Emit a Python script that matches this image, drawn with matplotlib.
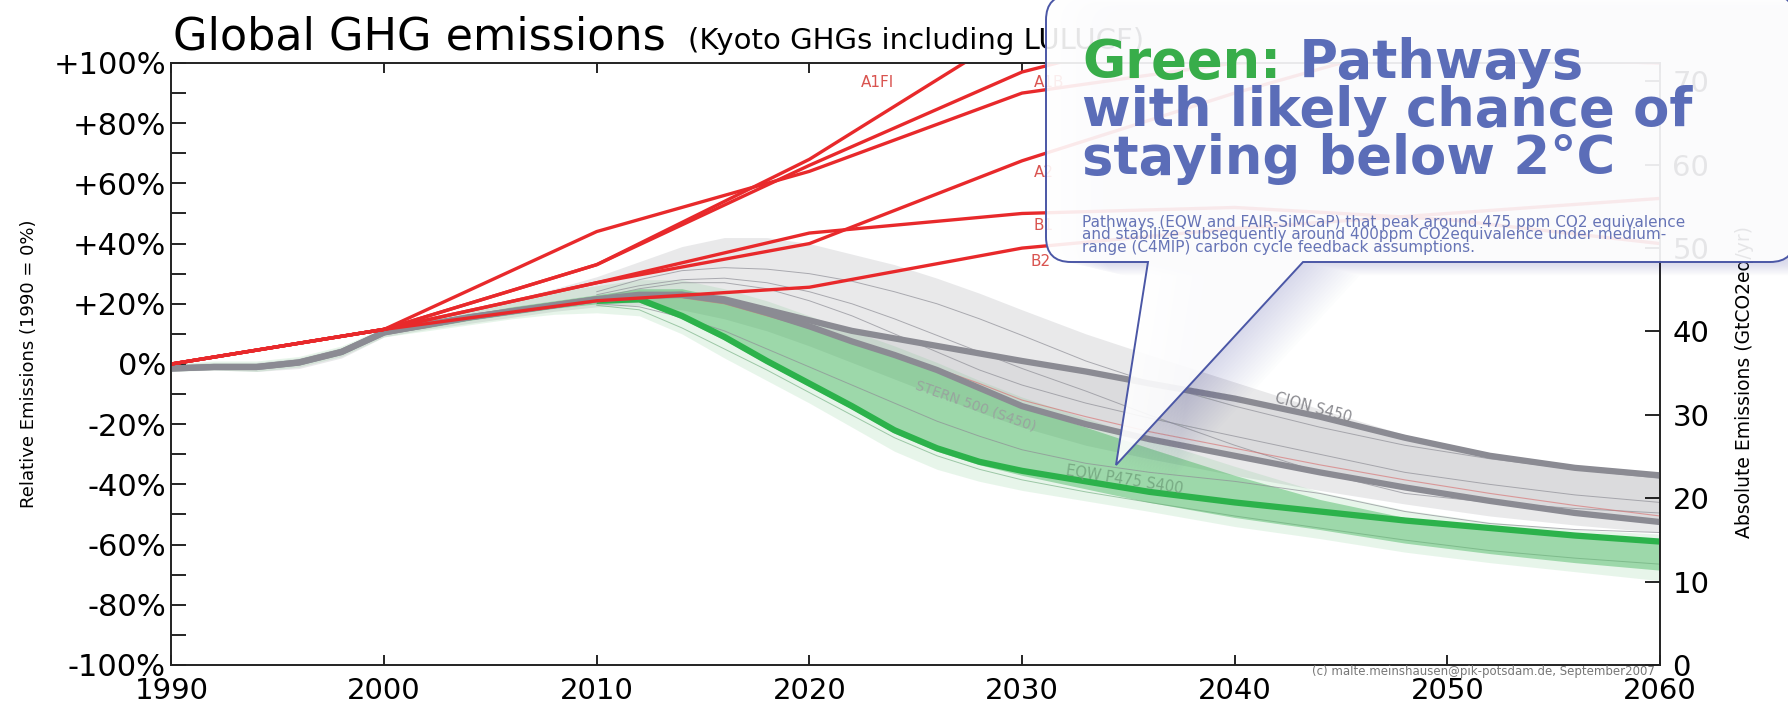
import matplotlib
matplotlib.use("Agg")
from matplotlib import pyplot as plt
from matplotlib.path import Path
from matplotlib.patches import PathPatch

plt.rcParams["font.family"] = ["DejaVu Sans"]

# ---- data (relative emissions, % of 1990) ----
YEARS = [1990, 1992, 1994, 1996, 1998, 2000, 2002, 2004, 2006, 2008, 2010,
         2012, 2014, 2016, 2018, 2020, 2022, 2024, 2026, 2028, 2030,
         2033, 2036, 2040, 2044, 2048, 2052, 2056, 2060]

stern_500 = [-1.5, -1, -1, 0.5, 4, 10.5, 13, 15.5, 17.5, 19.5, 21.5,
             23, 23, 21, 17, 12.5, 7.5, 3, -2, -8, -14,
             -20, -25, -30.5, -36, -41, -45.5, -49.5, -52.5]
cion_s450 = [-1.5, -1, -1, 0.5, 4, 10.5, 13, 15.5, 17.5, 19.5, 21.5,
             22.5, 23, 21.5, 18, 14.5, 11, 8.5, 6, 3.5, 1,
             -2.5, -6.5, -11.5, -17.5, -24.5, -30.5, -34.5, -37]

gray_hi = [0, 0.5, 0.5, 2, 5.5, 11.5, 15, 18, 21.5, 25, 29,
           34, 39, 42, 42, 40, 36.5, 33, 28.5, 23.5, 18,
           10, 3, -6, -15, -23.5, -29.5, -33.5, -36]
gray_lo = [-2, -2, -2.5, -1.5, 2, 9, 11.5, 13.5, 15.5, 17.5, 19,
           19.5, 18, 15, 11, 6, 0.5, -5, -10.5, -16, -21,
           -27, -31.5, -37, -42, -46.5, -50.5, -53.5, -56]
green_hi = [-0.5, 0, 0, 1.5, 5, 11, 14, 16.5, 19, 21, 23,
            25, 25, 22, 18, 13, 8, 3, -2.5, -8.5, -14,
            -21, -28, -37, -45, -51, -54.5, -57, -58.5]
green_lo = [-1.5, -1, -1.5, 0, 3.5, 10, 12, 14.5, 16.5, 18.5, 20,
            20.5, 15, 8, 0, -7.5, -15, -23, -29, -33.5, -37,
            -41.5, -46, -51, -55, -59.5, -63, -66, -68.5]
halo_hi = [0, 1, 1, 2.5, 6, 12, 15.5, 18.5, 21, 24, 26,
           28, 28, 25, 21, 16, 11, 6, 0.5, -5.5, -11,
           -18, -25, -34, -42.5, -48.5, -52.5, -55, -56.5]
halo_lo = [-2.5, -2, -2.5, -1, 2.5, 9, 11, 13, 15, 16.5, 17,
           16, 10, 2, -5.5, -13, -21, -29, -35, -39, -42,
           -45.5, -49, -54, -58, -62.5, -66, -69, -72]

# pathways that leave the common history from 2010 on
THIN_YEARS = [2010, 2012, 2014, 2016, 2018, 2020, 2022, 2024, 2026, 2028, 2030,
              2033, 2036, 2040, 2044, 2048, 2052, 2056, 2060]
eqw_p475 = [21, 21.5, 16, 9, 1, -6.5, -14, -22, -28, -32.5, -35.5,
            -39, -42.5, -46, -49, -52, -54.5, -57, -59]
thin_a = [24, 28, 31, 32, 31.5, 30, 27.5, 24, 20, 15, 9.5, 1, -6, -14, -21, -27, -31.5, -35, -38]
thin_b = [22, 25, 27, 27, 25, 21, 16, 10, 4, -2, -7, -13, -18, -24, -30, -36, -40, -43.5, -46]
thin_c = [20, 19, 15.5, 11, 5, -1, -7, -13, -19, -24, -28.5, -33, -36, -39, -43, -49, -53, -55, -56]
thin_d = [19.5, 18, 12, 5, -2, -9.5, -17, -24.5, -30.5, -35, -38.5, -42.5, -46, -50.5, -54.5, -58.5, -62, -64.5, -66.5]
thin_e = [23, 26, 28, 28.5, 27, 24, 20, 15, 9.5, 4, -1.5, -9, -17, -27, -36, -43, -46, -48, -49.5]
thin_red = [21.5, 22.5, 22, 20, 16, 12, 7.5, 3, -1.5, -6.5, -12, -17.5, -22.5, -28, -33.5, -38.5, -43, -47, -50.5]

SRES_YEARS = [1990, 2000, 2010, 2020, 2030, 2040, 2050, 2060]
sres = {
    "A1FI": [0, 11.5, 33, 68, 112, 150, 190, 230],
    "A1B": [0, 11.5, 33, 66, 97, 115, 125, 130],
    "A1T": [0, 11.5, 44, 64, 90, 100, 102, 100],
    "A2": [0, 11.5, 27, 40, 67.5, 90, 110, 130],
    "B1": [0, 11.5, 27, 43.5, 50, 52, 48, 40],
    "B2": [0, 11.5, 21, 25.5, 38.5, 45, 50, 55],
}
# label text, year, value
sres_labels = [("A1FI", 2023.2, 93.5), ("A1B", 2030.55, 93.5), ("A2", 2030.55, 63.5),
               ("B1", 2030.55, 46), ("B2", 2030.4, 34)]

Y_TICKS = [-100, -80, -60, -40, -20, 0, 20, 40, 60, 80, 100]
Y_TICK_LABELS = ["-100%", "-80%", "-60%", "-40%", "-20%", "0%",
                 "+20%", "+40%", "+60%", "+80%", "+100%"]
Y_MINOR = [-90, -70, -50, -30, -10, 10, 30, 50, 70, 90]
X_TICKS = [1990, 2000, 2010, 2020, 2030, 2040, 2050, 2060]
ABS_TICKS = [0, 10, 20, 30, 40, 50, 60, 70]
BASE_1990_GT = 36.1

RED = "#e8292b"
GREEN = "#2cb24b"
GREY = "#8b8b93"

fig = plt.figure(figsize=(17.88, 7.10), dpi=100)
ax = fig.add_axes([0.0959, 0.0634, 0.8325, 0.8479])

ax.fill_between(YEARS, gray_lo, gray_hi, color="#9c9ca3", alpha=0.22, lw=0, zorder=1)
ax.fill_between(YEARS, stern_500, cion_s450, color="#8f8f96", alpha=0.15, lw=0, zorder=1)
ax.fill_between(YEARS, halo_lo, halo_hi, color="#41b35a", alpha=0.12, lw=0, zorder=1)
ax.fill_between(YEARS, green_lo, green_hi, color="#38b052", alpha=0.42, lw=0, zorder=1)

for t in (thin_a, thin_b, thin_c, thin_e):
    ax.plot(THIN_YEARS, t, color="#8e8e96", lw=0.7, alpha=0.7, zorder=2)
ax.plot(THIN_YEARS, thin_d, color="#6aa878", lw=0.7, alpha=0.6, zorder=2)
ax.plot(THIN_YEARS, thin_red, color="#d86a6a", lw=0.8, alpha=0.6, zorder=3)

ax.plot(THIN_YEARS, eqw_p475, color=GREEN, lw=4.5, zorder=4, solid_capstyle="butt")
ax.plot(YEARS, cion_s450, color=GREY, lw=4.5, zorder=4, solid_capstyle="butt")
ax.plot(YEARS, stern_500, color=GREY, lw=4.5, zorder=4, solid_capstyle="butt")

for name, vals in sres.items():
    ax.plot(SRES_YEARS, vals, color=RED, lw=2.4, zorder=6)
for txt, yr, val in sres_labels:
    ax.text(yr, val, txt, color="#d9534f", fontsize=11, ha="left" if txt != "A1FI" else "center",
            va="center", zorder=7)

ax.text(2043.7, -14.6, "CION S450", color="#8a8a8f", fontsize=10.5, rotation=-15,
        ha="center", va="center", zorder=7)
ax.text(2027.8, -14, "STERN 500 (S450)", color="#9a9a9e", alpha=0.8, fontsize=10,
        rotation=-19.5, ha="center", va="center", zorder=7)
ax.text(2034.8, -38.5, "EQW P475 S400", color="#6f9f7a", alpha=0.8, fontsize=10.5,
        rotation=-9, ha="center", va="center", zorder=7)

ax.set_xlim(1990, 2060)
ax.set_ylim(-100, 100)
ax.set_xticks(X_TICKS)
ax.set_yticks(Y_TICKS, labels=Y_TICK_LABELS)
ax.set_yticks(Y_MINOR, minor=True)
ax.tick_params(axis="x", direction="in", top=True, length=7, width=1.2,
               labelsize=21, pad=9)
ax.tick_params(axis="y", which="both", direction="in", length=11, width=1.2,
               labelsize=22, pad=4, right=False)
for s in ax.spines.values():
    s.set_linewidth(1.2)
    s.set_color("#222222")
ax.set_ylabel("Relative Emissions (1990 = 0%)", fontsize=13)
ax.yaxis.set_label_coords(-0.0957, 0.5)
ax.yaxis.label.set_va("center")

ax2 = ax.twinx()
ax2.set_ylim(0, 2 * BASE_1990_GT)
ax2.set_yticks(ABS_TICKS)
ax2.tick_params(axis="y", direction="in", length=11, width=1.2, labelsize=21, pad=9)
ax2.set_ylabel("Absolute Emissions (GtCO2eq/yr)", fontsize=13.5)
ax2.yaxis.set_label_coords(1.0565, 0.47)
ax2.yaxis.label.set_va("center")
for s in ax2.spines.values():
    s.set_linewidth(1.2)
    s.set_color("#222222")

# ---- overlay in pixel coordinates: title, callout ----
ov = fig.add_axes([0, 0, 1, 1], zorder=10)
ov.set_xlim(0, 1788)
ov.set_ylim(710, 0)
ov.axis("off")
ov.patch.set_alpha(0)

title = ov.text(173, 58, "Global GHG emissions", fontsize=32, ha="left", va="bottom", zorder=5)
ov.annotate("(Kyoto GHGs including LULUCF)", xy=(1, 0), xycoords=title,
            xytext=(16, 2), textcoords="offset points", fontsize=21,
            ha="left", va="bottom", zorder=1)

L, R, T, B, r = 1046, 1795, -5, 262, 25
P1, P2, TIP = 1148, 1303, (1116, 465)
verts = [(L, T + r), (L, B - r), (L, B), (L + r, B), (P1, B), TIP, (P2, B),
         (R - r, B), (R, B), (R, B - r), (R, T + r), (R, T), (R - r, T),
         (L + r, T), (L, T), (L, T + r), (L, T + r)]
codes = [Path.MOVETO, Path.LINETO, Path.CURVE3, Path.CURVE3, Path.LINETO, Path.LINETO,
         Path.LINETO, Path.LINETO, Path.CURVE3, Path.CURVE3, Path.LINETO, Path.CURVE3,
         Path.CURVE3, Path.LINETO, Path.CURVE3, Path.CURVE3, Path.CLOSEPOLY]
callout = Path(verts, codes)

# soft shadow: stacked, shifted copies of the callout outline
for k in range(1, 20):
    shifted = Path([(x + 3.0 * k, y + 0.7 * k) for x, y in verts], codes)
    ov.add_patch(PathPatch(shifted, facecolor=(0.33, 0.36, 0.66, 0.013),
                           edgecolor="none", zorder=2))
ov.add_patch(PathPatch(callout, facecolor=(1, 1, 1, 0.9), edgecolor="#4b57a6",
                       lw=1.4, zorder=3))

BLUE_TXT = "#5b6db8"
g = ov.text(1082, 78, "Green:", fontsize=38, fontweight="bold", color="#38ad4a",
            ha="left", va="baseline", zorder=4)
ov.annotate(" Pathways", xy=(1, 0), xycoords=g, fontsize=38, fontweight="bold",
            color=BLUE_TXT, ha="left", va="bottom", zorder=4)
ov.text(1082, 126, "with likely chance of", fontsize=38, fontweight="bold",
        color=BLUE_TXT, ha="left", va="baseline", zorder=4)
ov.text(1082, 174, "staying below 2°C", fontsize=38, fontweight="bold",
        color=BLUE_TXT, ha="left", va="baseline", zorder=4)

small_lines = ["Pathways (EQW and FAIR-SiMCaP) that peak around 475 ppm CO2 equivalence",
               "and stabilize subsequently around 400ppm CO2equivalence under medium-",
               "range (C4MIP) carbon cycle feedback assumptions."]
for i, line in enumerate(small_lines):
    ov.text(1082, 227 + 12.5 * i, line, fontsize=11, color="#6674b6",
            ha="left", va="baseline", zorder=4)

ov.text(1655, 671, "(c) malte.meinshausen@pik-potsdam.de, September2007", fontsize=8.5,
        color="#777777", ha="right", va="center", zorder=4)

fig.savefig("out.png", dpi=100)
